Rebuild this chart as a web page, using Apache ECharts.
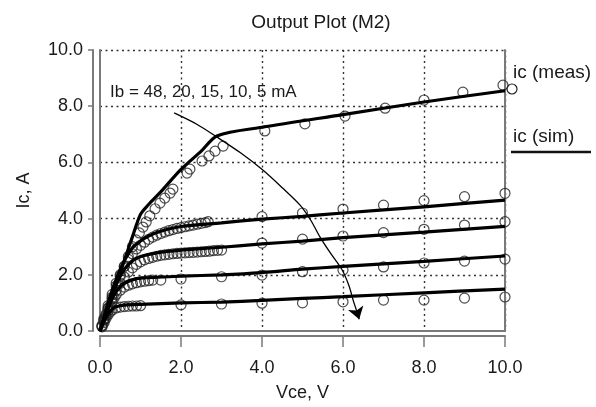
<!DOCTYPE html>
<html><head><meta charset="utf-8">
<script src="https://cdn.jsdelivr.net/npm/echarts@6/dist/echarts.min.js"></script>
<style>html,body{margin:0;padding:0;background:#fff}#c{width:596px;height:407px}</style>
</head><body><div id="c"></div>
<script>
// ---- data ----
var title = 'Output Plot (M2)';
var xName = 'Vce, V';
var yName = 'Ic, A';
var annotationText = 'Ib = 48, 20, 15, 10, 5 mA';
var legendMeas = 'ic (meas)';
var legendSim = 'ic (sim)';
var xTicks = [0, 2, 4, 6, 8, 10];
var yTicks = [0, 2, 4, 6, 8, 10];

// simulated curves [Vce, Ic]
var sim48 = [[0,0],[0.2,0.8],[0.4,1.65],[0.6,2.5],[0.8,3.35],[1.0,4.15],[1.2,4.5],[1.5,4.95],[2.0,5.75],[2.5,6.4],[2.9,6.95],[4,7.25],[6,7.7],[8,8.15],[10,8.55]];
var sim20 = [[0,0],[0.1,0.5],[0.2,1.0],[0.3,1.45],[0.4,1.85],[0.5,2.2],[0.6,2.5],[0.8,2.95],[1.0,3.2],[1.2,3.38],[1.5,3.55],[2.0,3.72],[3,3.85],[4,3.98],[5,4.08],[6,4.2],[8,4.42],[10,4.66]];
var sim15 = [[0,0],[0.1,0.45],[0.2,0.9],[0.3,1.3],[0.4,1.65],[0.5,1.95],[0.6,2.2],[0.8,2.5],[1.0,2.65],[1.4,2.78],[2,2.88],[3,2.98],[4,3.1],[5,3.2],[6,3.32],[8,3.52],[10,3.72]];
var sim10 = [[0,0],[0.1,0.4],[0.2,0.8],[0.3,1.15],[0.4,1.4],[0.5,1.58],[0.6,1.7],[0.8,1.82],[1.0,1.88],[2,1.95],[3,2.0],[4,2.08],[5,2.2],[6,2.3],[8,2.48],[10,2.67]];
var sim5 = [[0,0],[0.1,0.35],[0.2,0.6],[0.3,0.78],[0.4,0.86],[0.6,0.92],[1,0.95],[2,1.0],[3,1.03],[4,1.09],[5,1.16],[6,1.22],[8,1.36],[10,1.49]];

// measured points [Vce, Ic]
var meas48 = [[0.05,0.2],[0.1,0.4],[0.15,0.6],[0.2,0.8],[0.3,1.2],[0.4,1.6],[0.5,1.95],[0.6,2.3],[0.7,2.65],[0.8,3.0],[0.89,3.24],[0.97,3.49],[1.06,3.7],[1.14,3.88],[1.23,4.1],[1.36,4.35],[1.48,4.55],[1.6,4.73],[1.73,4.91],[1.8,5.05],[2.15,5.62],[2.22,5.76],[2.52,6.05],[2.69,6.23],[2.84,6.4],[3.04,6.58],[4.07,7.12],[5.06,7.37],[6.05,7.65],[7.04,7.93],[8.0,8.22],[8.96,8.5],[9.95,8.75]];
var meas20 = [[0.1,0.45],[0.2,0.9],[0.3,1.3],[0.4,1.7],[0.5,2.0],[0.6,2.3],[0.7,2.55],[0.8,2.75],[0.9,2.92],[1.0,3.05],[1.1,3.16],[1.2,3.26],[1.3,3.34],[1.4,3.41],[1.5,3.47],[1.6,3.52],[1.7,3.57],[1.8,3.61],[1.9,3.65],[2.0,3.68],[2.1,3.71],[2.2,3.74],[2.3,3.77],[2.4,3.8],[2.5,3.83],[2.6,3.86],[2.67,3.89],[4,4.07],[5,4.2],[6,4.34],[7,4.48],[8,4.64],[9,4.78],[10,4.9]];
var meas15 = [[0.1,0.4],[0.2,0.8],[0.3,1.15],[0.4,1.45],[0.5,1.7],[0.6,1.92],[0.7,2.1],[0.8,2.25],[0.9,2.37],[1.0,2.46],[1.1,2.53],[1.2,2.58],[1.3,2.62],[1.4,2.66],[1.5,2.69],[1.6,2.71],[1.7,2.73],[1.8,2.75],[1.9,2.76],[2.0,2.77],[2.1,2.78],[2.2,2.79],[2.3,2.8],[2.4,2.81],[2.5,2.82],[2.6,2.83],[2.7,2.84],[2.8,2.86],[2.9,2.87],[3.0,2.88],[4,3.13],[5,3.27],[6,3.38],[7,3.5],[8,3.62],[9,3.77],[10,3.89]];
var meas10 = [[0.05,0.18],[0.1,0.35],[0.15,0.55],[0.2,0.72],[0.25,0.9],[0.3,1.05],[0.35,1.18],[0.4,1.3],[0.5,1.45],[0.6,1.56],[0.7,1.63],[0.8,1.68],[0.9,1.72],[1.0,1.75],[1.1,1.77],[1.2,1.79],[1.3,1.81],[1.5,1.81],[2,1.85],[3,1.93],[4,1.99],[5,2.11],[6,2.17],[7,2.28],[8,2.42],[9,2.49],[10,2.56]];
var meas5 = [[0.05,0.15],[0.1,0.3],[0.15,0.45],[0.2,0.58],[0.25,0.68],[0.3,0.75],[0.4,0.82],[0.5,0.85],[0.6,0.87],[0.7,0.88],[0.8,0.89],[0.9,0.89],[1.0,0.9],[2,0.93],[3,0.96],[4,0.99],[5,1.0],[6,1.04],[7,1.1],[8,1.1],[9,1.17],[10,1.21]];

// annotation curve (load-line arrow) [Vce, Ic]
var arrowCurve = [[1.83,7.76],[2.4,7.35],[2.89,6.9],[3.46,6.35],[4.02,5.73],[4.5,5.1],[4.94,4.48],[5.2,3.95],[5.43,3.35],[5.7,2.75],[5.98,2.17],[6.15,1.6],[6.25,1.1],[6.33,0.75]];
var arrowTip = [[6.33,0.75],[6.4,0.42]];

// ---- chart ----
var chart = echarts.init(document.getElementById('c'), null, {renderer: 'canvas'});
var FONT = 'Liberation Sans, Arial, Helvetica, sans-serif';
var TXT = '#1a1a1a';
var FRAME = '#7a7a7a';
var dotted = {show: true, showMinLine: false, showMaxLine: true, lineStyle: {color: '#333', type: [2, 3.5], width: 1.4}};

function simSeries(name, d) {
  return {type: 'line', name: name, data: d, smooth: 0.3, symbol: 'none', xAxisIndex: 0, yAxisIndex: 0,
    lineStyle: {color: '#000', width: 3.2}, z: 4, silent: true};
}
function measSeries(name, d) {
  return {type: 'scatter', name: name, data: d, symbol: 'circle', symbolSize: 10, xAxisIndex: 0, yAxisIndex: 0,
    itemStyle: {color: 'rgba(0,0,0,0)', borderColor: '#222', borderWidth: 1.2}, z: 3, silent: true};
}

var valFmt = function (v) { return v.toFixed(1); };

chart.setOption({
  animation: false,
  backgroundColor: '#fff',
  textStyle: {fontFamily: FONT},
  title: {text: title, left: 316, top: 8, textAlign: 'center',
    textStyle: {fontSize: 19, fontWeight: 'normal', color: TXT, fontFamily: FONT}},
  grid: {left: 100, right: 91, top: 50, bottom: 76, containLabel: false, outerBoundsMode: 'none'},
  xAxis: [
    {type: 'value', min: xTicks[0], max: xTicks[xTicks.length - 1], interval: xTicks[1] - xTicks[0], position: 'bottom', offset: 5,
      axisLine: {show: true, onZero: false, lineStyle: {color: FRAME, width: 2}},
      axisTick: {show: true, inside: false, length: 11, lineStyle: {color: FRAME, width: 1.5}},
      axisLabel: {fontSize: 18, color: TXT, margin: 23, formatter: valFmt, fontFamily: FONT},
      splitLine: dotted,
      name: xName, nameLocation: 'middle', nameGap: 48,
      nameTextStyle: {fontSize: 18, color: TXT, fontFamily: FONT}},
    {type: 'value', min: 0, max: 10, position: 'bottom', offset: 0,
      axisLine: {show: true, onZero: false, lineStyle: {color: FRAME, width: 2}},
      axisTick: {show: false}, axisLabel: {show: false}, splitLine: {show: false}}
  ],
  yAxis: [
    {type: 'value', min: yTicks[0], max: yTicks[yTicks.length - 1], interval: yTicks[1] - yTicks[0], position: 'left', offset: 7,
      axisLine: {show: true, onZero: false, lineStyle: {color: FRAME, width: 2}},
      axisTick: {show: true, inside: false, length: 5, lineStyle: {color: FRAME, width: 1.5}},
      axisLabel: {fontSize: 18, color: TXT, margin: 10, formatter: valFmt, fontFamily: FONT},
      splitLine: dotted,
      name: yName, nameLocation: 'middle', nameGap: 60, nameRotate: 90,
      nameTextStyle: {fontSize: 18, color: TXT, fontFamily: FONT}},
    {type: 'value', min: 0, max: 10, position: 'left', offset: 0,
      axisLine: {show: true, onZero: false, lineStyle: {color: FRAME, width: 2}},
      axisTick: {show: false}, axisLabel: {show: false}, splitLine: {show: false}},
    {type: 'value', min: 0, max: 10, position: 'right', offset: 0,
      axisLine: {show: true, onZero: false, lineStyle: {color: FRAME, width: 2}},
      axisTick: {show: false}, axisLabel: {show: false}, splitLine: {show: false}}
  ],
  series: [
    measSeries('m48', meas48), measSeries('m20', meas20), measSeries('m15', meas15), measSeries('m10', meas10), measSeries('m5', meas5),
    simSeries('s48', sim48), simSeries('s20', sim20), simSeries('s15', sim15), simSeries('s10', sim10), simSeries('s5', sim5),
    {type: 'line', name: 'loadline', data: arrowCurve, smooth: 0.3, symbol: 'none', xAxisIndex: 0, yAxisIndex: 0,
      lineStyle: {color: '#000', width: 1.3}, z: 5, silent: true},
    {type: 'lines', coordinateSystem: 'cartesian2d', xAxisIndex: 0, yAxisIndex: 0, z: 5, silent: true,
      symbol: ['none', 'arrow'], symbolSize: [1, 12],
      lineStyle: {color: '#000', width: 1.3, opacity: 1, curveness: 0},
      data: [{coords: arrowTip}]}
  ],
  graphic: [
    {type: 'text', left: 110, top: 84, z: 10, style: {text: annotationText, fontSize: 17, fill: TXT, fontFamily: FONT}},
    {type: 'text', left: 513, top: 63, z: 10, style: {text: legendMeas, fontSize: 19, fill: TXT, fontFamily: FONT}},
    {type: 'circle', z: 10, shape: {cx: 512, cy: 89, r: 5}, style: {fill: 'none', stroke: '#222', lineWidth: 1.2}},
    {type: 'text', left: 513, top: 127, z: 10, style: {text: legendSim, fontSize: 19, fill: TXT, fontFamily: FONT}},
    {type: 'line', z: 10, shape: {x1: 511, y1: 152, x2: 591, y2: 152}, style: {stroke: '#111', lineWidth: 2.5}}
  ]
});
</script>
</body></html>
